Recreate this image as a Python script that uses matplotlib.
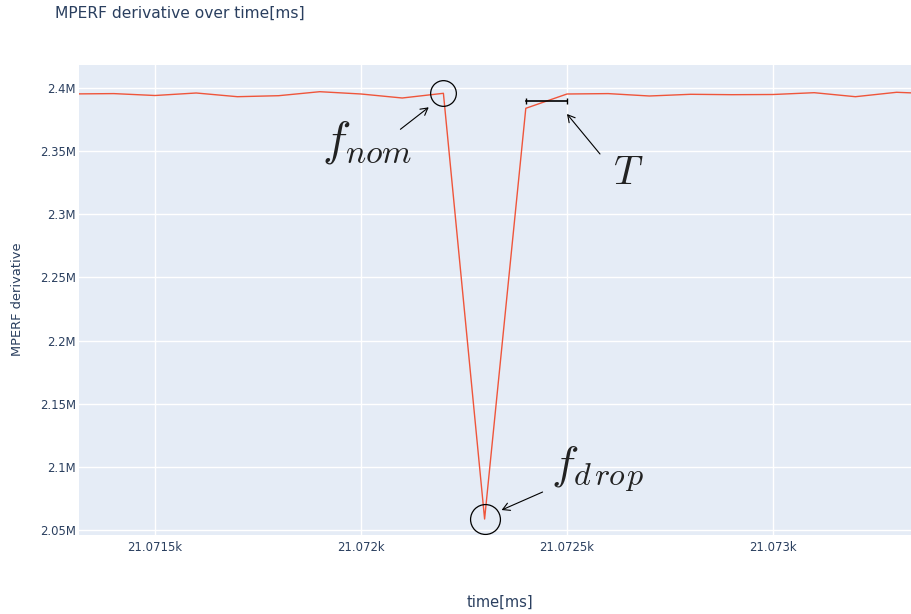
import matplotlib
matplotlib.use("Agg")
import matplotlib.pyplot as plt
from matplotlib.ticker import MultipleLocator, FuncFormatter
from matplotlib.transforms import offset_copy

# ---- data ----
time_ms = [21071.3, 21071.4, 21071.5, 21071.6, 21071.7, 21071.8, 21071.9,
           21072.0, 21072.1, 21072.2, 21072.3, 21072.4, 21072.5, 21072.6,
           21072.7, 21072.8, 21072.9, 21073.0, 21073.1, 21073.2, 21073.3,
           21073.4]
mperf_deriv = [2395300, 2395560, 2394060, 2396040, 2393110, 2393900, 2397070,
               2395250, 2392080, 2395800, 2058700, 2383930, 2395250, 2395560,
               2393670, 2395010, 2394700, 2394850, 2396280, 2393110, 2396600,
               2395300]
nom_idx = 9
drop_idx = 10
t_start_idx = 11
t_end_idx = 12
t_bar_level = 2390000

title = "MPERF derivative over time[ms]"
xlabel = "time[ms]"
ylabel = "MPERF derivative"

TXT = "#2a3f5f"
plt.rcParams["mathtext.fontset"] = "cm"
plt.rcParams["font.family"] = ["DejaVu Sans"]

fig = plt.figure(figsize=(9.12, 6.14), dpi=100)
W, H = 912, 614
L, R, T, B = 78.5, 912, 65, 535
ax = fig.add_axes([L / W, (H - B) / H, (R - L) / W, (B - T) / H])
ax.set_facecolor("#E5ECF6")
for s in ax.spines.values():
    s.set_visible(False)

ax.plot(time_ms, mperf_deriv, color="#EF553B", lw=1.0, zorder=3)

ax.set_xlim(21071.3143, 21073.3374)
ax.set_ylim(2046050, 2418210)
ax.xaxis.set_major_locator(MultipleLocator(0.5))
ax.yaxis.set_major_locator(MultipleLocator(50000))
ax.xaxis.set_major_formatter(FuncFormatter(lambda v, p: f"{v/1000:g}k"))
ax.yaxis.set_major_formatter(FuncFormatter(lambda v, p: f"{v/1e6:g}M"))
ax.grid(True, color="white", lw=1.0, zorder=0)
ax.set_axisbelow(True)
ax.tick_params(axis="both", length=0, labelsize=8.4, labelcolor=TXT)
ax.tick_params(axis="y", pad=2)
ax.tick_params(axis="x", pad=4)

fig.text(55 / W, 1 - 13 / H, title, fontsize=11.2, color=TXT, va="center", ha="left")
fig.text(500 / W, 1 - 602 / H, xlabel, fontsize=10.5, color=TXT, va="center", ha="center")
fig.text(18 / W, 1 - 299 / H, ylabel, fontsize=9.4, color=TXT, va="center",
         ha="center", rotation=90)

# circles around nominal and drop points
ax.plot([time_ms[nom_idx]], [mperf_deriv[nom_idx]], marker="o", ms=18.5,
        mfc="none", mec="black", mew=0.9, zorder=4)
ax.plot([time_ms[drop_idx]], [mperf_deriv[drop_idx]], marker="o", ms=21.5,
        mfc="none", mec="black", mew=0.9, zorder=4)

# T bar
ax.plot([time_ms[t_start_idx], time_ms[t_end_idx]], [t_bar_level, t_bar_level],
        color="black", lw=1.2, marker="|", ms=4, mew=1.0, zorder=4)


def arrow(xd, yd, head, tail):
    tr = offset_copy(ax.transData, fig=fig, x=head[0], y=head[1], units="dots")
    ax.annotate("", xy=(xd, yd), xycoords=tr,
                xytext=(tail[0] - head[0], tail[1] - head[1]),
                textcoords="offset pixels",
                arrowprops=dict(arrowstyle="->,head_length=0.5,head_width=0.28",
                                color="black", lw=0.8, shrinkA=0, shrinkB=0))


def label(xd, yd, off, s, size, ha="center", va="center"):
    ax.annotate(s, xy=(xd, yd), xycoords="data", xytext=off,
                textcoords="offset pixels", ha=ha, va=va,
                fontsize=size, color="#222222", annotation_clip=False)


xn, yn = time_ms[nom_idx], mperf_deriv[nom_idx]
xd, yd = time_ms[drop_idx], mperf_deriv[drop_idx]
xt, yt = time_ms[t_end_idx], mperf_deriv[t_end_idx]

arrow(xn, yn, (-14.7, -14), (-43, -36))
label(xn, yn, (-76.3, -48.4), r"$f_{nom}$", 34.5)

arrow(xt, yt, (0, -20), (33, -60))
label(xt, yt, (46, -90.3), r"$T$", 29, ha="left", va="baseline")

arrow(xd, yd, (17, 9), (58, 27))
label(xd, yd, (112.8, 50.1),
      r"$f_{d\hspace{0.14}ro\hspace{0.08}p}$", 33)

fig.savefig("out.png", dpi=100)
